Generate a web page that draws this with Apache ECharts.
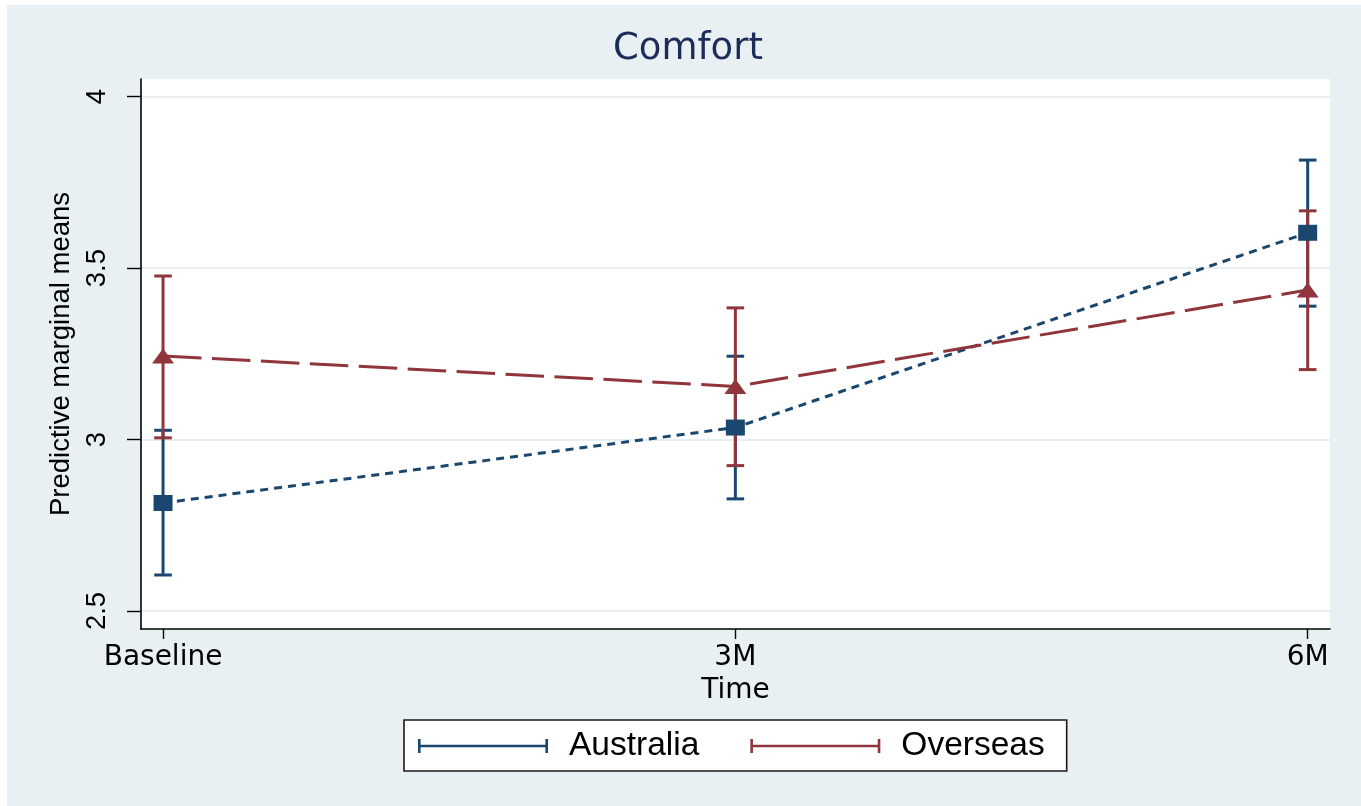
<!DOCTYPE html>
<html>
<head>
<meta charset="utf-8">
<title>Comfort</title>
<script src="https://cdn.jsdelivr.net/npm/echarts@6/dist/echarts.min.js"></script>
<style>
  html, body { margin: 0; padding: 0; background: #ffffff; }
  #chart { position: absolute; left: 7px; top: 5px; width: 1354px; height: 801px; }
</style>
</head>
<body>
<div id="chart"></div>
<script>
// Time points and y-axis ticks
const categories = ['Baseline', '3M', '6M'];
const yTicks = [2.5, 3, 3.5, 4];

// Predictive marginal means with 95% confidence limits
const australiaMean = [2.815, 3.035, 3.603];
const australiaLow  = [2.605, 2.827, 3.389];
const australiaHigh = [3.027, 3.243, 3.815];

const overseasMean = [3.244, 3.155, 3.436];
const overseasLow  = [3.005, 2.924, 3.204];
const overseasHigh = [3.477, 3.384, 3.667];

const NAVY = '#1a476f';
const MAROON = '#90353b';

const catIndex = categories.map((c, i) => i);
const toPoints = arr => arr.map((v, i) => [i, v]);
const toRanges = (lo, hi) => lo.map((v, i) => [i, v, hi[i]]);

// Vertical interval with caps at both ends
function capRenderer(capHalf, width) {
  return function (params, api) {
    const x = api.value(0);
    const lo = api.coord([x, api.value(1)]);
    const hi = api.coord([x, api.value(2)]);
    const style = { stroke: api.visual('color'), lineWidth: width };
    return {
      type: 'group',
      children: [
        { type: 'line', shape: { x1: lo[0], y1: lo[1], x2: hi[0], y2: hi[1] }, style: style },
        { type: 'line', shape: { x1: lo[0] - capHalf, y1: lo[1], x2: lo[0] + capHalf, y2: lo[1] }, style: style },
        { type: 'line', shape: { x1: hi[0] - capHalf, y1: hi[1], x2: hi[0] + capHalf, y2: hi[1] }, style: style }
      ]
    };
  };
}

// Legend key: a horizontal bar with end caps
const capKey = 'path://M0,0h2.6v14h-2.6z M0,5.7h130v2.6h-130z M127.4,0h2.6v14h-2.6z';

const chart = echarts.init(document.getElementById('chart'), null, { renderer: 'canvas' });

chart.setOption({
  animation: false,
  backgroundColor: '#e8f0f3',
  title: {
    text: 'Comfort',
    left: 601,
    top: 21,
    textStyle: { fontFamily: 'DejaVu Sans', fontSize: 37, fontWeight: 'normal', color: '#1c2c58' }
  },
  grid: {
    left: 134, right: 31, top: 74, bottom: 177,
    show: true, backgroundColor: '#ffffff', borderWidth: 0
  },
  legend: {
    data: [
      { name: 'Australia', icon: capKey },
      { name: 'Overseas', icon: capKey }
    ],
    left: 397,
    top: 715,
    orient: 'horizontal',
    itemWidth: 130,
    itemHeight: 14,
    itemGap: 51,
    padding: [8, 22, 7, 14],
    backgroundColor: '#ffffff',
    borderColor: '#1a1a1a',
    borderWidth: 1.6,
    borderRadius: 0,
    selectedMode: false,
    textStyle: {
      fontFamily: 'Liberation Sans', fontSize: 33.5, color: '#000000',
      lineHeight: 36, padding: [0, 0, 0, 16]
    }
  },
  xAxis: {
    type: 'value',
    min: -0.0385,
    max: 2.039,
    axisLine: { show: true, onZero: false, lineStyle: { color: '#000000', width: 1.6 } },
    axisTick: { show: true, length: 10, customValues: catIndex, lineStyle: { color: '#000000', width: 1.4 } },
    axisLabel: {
      customValues: catIndex,
      formatter: v => categories[Math.round(v)],
      margin: 15,
      fontFamily: 'DejaVu Sans', fontSize: 28, color: '#000000'
    },
    splitLine: { show: false },
    name: 'Time',
    nameLocation: 'middle',
    nameGap: 36,
    nameTextStyle: { fontFamily: 'DejaVu Sans', fontSize: 28, color: '#000000' }
  },
  yAxis: {
    type: 'value',
    min: 2.4475,
    max: 4.0515,
    axisLine: { show: true, onZero: false, lineStyle: { color: '#000000', width: 1.6 } },
    axisTick: { show: true, length: 14, customValues: yTicks, lineStyle: { color: '#000000', width: 1.4 } },
    axisLabel: {
      customValues: yTicks,
      formatter: v => String(v),
      rotate: 90,
      margin: 30,
      fontFamily: 'Liberation Sans', fontSize: 27.5, color: '#000000'
    },
    splitLine: { show: true, lineStyle: { color: '#e8eff2', width: 2 } },
    name: 'Predictive marginal means',
    nameLocation: 'middle',
    nameRotate: 90,
    nameGap: 66,
    nameTextStyle: { fontFamily: 'Liberation Sans', fontSize: 27.5, color: '#000000' }
  },
  series: [
    {
      name: 'Australia',
      type: 'custom',
      renderItem: capRenderer(8.8, 3),
      itemStyle: { color: NAVY },
      encode: { x: 0, y: [1, 2] },
      data: toRanges(australiaLow, australiaHigh),
      z: 2,
      silent: true
    },
    {
      name: 'Overseas',
      type: 'custom',
      renderItem: capRenderer(8.8, 3),
      itemStyle: { color: MAROON },
      encode: { x: 0, y: [1, 2] },
      data: toRanges(overseasLow, overseasHigh),
      z: 3,
      silent: true
    },
    {
      name: 'Australia',
      type: 'line',
      data: toPoints(australiaMean),
      symbol: 'rect',
      symbolSize: [19, 16],
      showSymbol: true,
      itemStyle: { color: NAVY },
      lineStyle: { color: NAVY, width: 3, type: [8, 6] },
      emphasis: { disabled: true },
      z: 4,
      silent: true
    },
    {
      name: 'Overseas',
      type: 'line',
      data: toPoints(overseasMean),
      symbol: 'triangle',
      symbolSize: [22, 15],
      showSymbol: true,
      itemStyle: { color: MAROON },
      lineStyle: { color: MAROON, width: 3, type: [38.5, 10.5] },
      emphasis: { disabled: true },
      z: 5,
      silent: true
    }
  ]
});
</script>
</body>
</html>
